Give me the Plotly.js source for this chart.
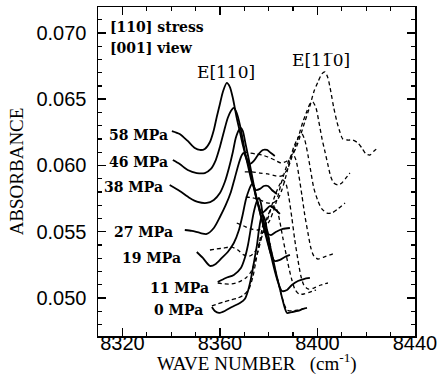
<!DOCTYPE html>
<html>
<head>
<meta charset="utf-8">
<script src="https://cdn.plot.ly/plotly-3.0.1.min.js"></script>
<style>html,body{margin:0;padding:0;background:#fff;}#chart{width:442px;height:383px;}</style>
</head>
<body>
<div id="chart"></div>
<script>
// Stress levels (labels at left of each spectrum pair)
const stressLabels = ['58 MPa', '46 MPa', '38 MPa', '27 MPa', '19 MPa', '11 MPa', '0 MPa'];

// Solid curves: E[110] polarisation
const solid58X = [8340.3,8343.5,8346.8,8349.7,8351.8,8353.8,8355.9,8357.5,8358.7,8360.0,8361.2,8362.8,8364.1,8365.3,8366.9,8368.2,8369.4,8370.6,8372.3,8373.9,8375.6,8377.6,8379.3,8380.9,8382.5];
const solid58Y = [0.06260,0.06238,0.06185,0.06132,0.06117,0.06125,0.06177,0.06268,0.06366,0.06464,0.06555,0.06623,0.06592,0.06509,0.06358,0.06253,0.06155,0.06072,0.06011,0.06034,0.06079,0.06117,0.06117,0.06094,0.06072];

const solid46X = [8340.7,8343.5,8346.8,8350.5,8353.8,8356.3,8358.3,8360.0,8361.6,8363.2,8364.5,8365.7,8366.9,8368.2,8369.4,8370.6,8371.9,8373.1,8374.7,8376.4,8378.0,8379.7,8381.3,8383.4];
const solid46Y = [0.06041,0.06011,0.05966,0.05943,0.05943,0.05974,0.06041,0.06140,0.06253,0.06358,0.06411,0.06434,0.06396,0.06306,0.06192,0.06072,0.05966,0.05875,0.05815,0.05823,0.05845,0.05845,0.05815,0.05785];

const solid38X = [8339.4,8343.5,8347.6,8350.9,8354.6,8357.5,8360.0,8362.0,8363.7,8365.3,8366.5,8367.8,8368.6,8369.4,8370.6,8371.9,8373.1,8374.3,8375.6,8377.2,8378.8,8380.5,8382.5,8384.6];
const solid38Y = [0.05853,0.05808,0.05755,0.05725,0.05717,0.05740,0.05792,0.05875,0.05981,0.06102,0.06208,0.06268,0.06283,0.06260,0.06155,0.06041,0.05928,0.05815,0.05717,0.05641,0.05664,0.05694,0.05672,0.05634];

const solid27X = [8345.6,8348.5,8351.8,8354.6,8357.5,8360.0,8362.4,8364.5,8366.1,8367.8,8369.0,8369.8,8371.0,8372.3,8373.1,8374.3,8375.6,8376.8,8378.0,8379.3,8380.9,8382.9,8385.8,8388.7];
const solid27Y = [0.05513,0.05506,0.05491,0.05483,0.05528,0.05611,0.05702,0.05800,0.05906,0.06019,0.06079,0.06094,0.06041,0.05966,0.05891,0.05800,0.05709,0.05619,0.05543,0.05491,0.05475,0.05498,0.05521,0.05528];

const solid19X = [8350.5,8353.0,8355.9,8358.3,8360.8,8363.2,8365.7,8367.8,8369.4,8370.6,8371.9,8373.1,8373.9,8374.7,8376.0,8377.2,8378.4,8379.7,8380.9,8382.5,8384.6,8386.6,8388.7];
const solid19Y = [0.05347,0.05302,0.05242,0.05257,0.05302,0.05347,0.05415,0.05513,0.05634,0.05740,0.05815,0.05860,0.05845,0.05770,0.05679,0.05589,0.05498,0.05408,0.05332,0.05279,0.05287,0.05309,0.05325];

const solid11X = [8359.1,8362.4,8365.7,8368.6,8370.2,8371.5,8372.7,8373.9,8375.2,8376.0,8376.8,8377.6,8378.8,8380.1,8381.3,8382.5,8383.8,8385.4,8387.5,8389.5,8392.0,8394.4,8396.9];
const solid11Y = [0.05121,0.05151,0.05174,0.05226,0.05302,0.05400,0.05528,0.05649,0.05732,0.05755,0.05717,0.05619,0.05498,0.05392,0.05294,0.05204,0.05121,0.05053,0.05060,0.05098,0.05128,0.05143,0.05151];

const solid0X = [8356.7,8357.9,8359.6,8362.0,8364.9,8368.2,8370.2,8371.5,8372.7,8373.9,8375.2,8376.0,8376.8,8377.6,8378.4,8379.3,8380.5,8381.7,8382.9,8384.2,8385.4,8386.6,8387.5,8389.5,8392.0,8394.0,8395.7];
const solid0Y = [0.04932,0.04902,0.04887,0.04902,0.04932,0.04962,0.04992,0.05053,0.05143,0.05264,0.05400,0.05513,0.05596,0.05626,0.05596,0.05513,0.05400,0.05302,0.05196,0.05098,0.05008,0.04925,0.04887,0.04894,0.04902,0.04917,0.04925];

// Dashed curves: E[1-10] polarisation
const dash58X = [8369.8,8372.3,8374.7,8377.2,8379.7,8382.5,8385.0,8387.5,8389.5,8391.2,8392.8,8394.8,8396.9,8398.5,8400.2,8401.8,8403.1,8404.3,8405.5,8406.7,8408.0,8409.2,8410.4,8412.5,8414.5,8416.6,8418.2,8419.9,8421.5,8423.2,8424.8];
const dash58Y = [0.06102,0.06094,0.06087,0.06079,0.06064,0.06041,0.06019,0.06034,0.06072,0.06132,0.06215,0.06328,0.06449,0.06555,0.06630,0.06691,0.06706,0.06660,0.06555,0.06434,0.06328,0.06253,0.06200,0.06192,0.06192,0.06170,0.06132,0.06087,0.06079,0.06109,0.06132];

const dash46X = [8370.2,8373.1,8376.4,8379.7,8382.9,8385.4,8387.5,8389.1,8390.7,8392.4,8394.0,8395.7,8396.9,8398.1,8399.4,8400.6,8401.8,8403.1,8404.3,8405.5,8406.7,8408.4,8410.0,8411.7,8413.3];
const dash46Y = [0.05951,0.05951,0.05943,0.05936,0.05921,0.05921,0.05966,0.06041,0.06132,0.06230,0.06328,0.06411,0.06464,0.06479,0.06434,0.06328,0.06208,0.06102,0.06004,0.05913,0.05868,0.05853,0.05868,0.05906,0.05943];

const dash38X = [8370.6,8373.5,8376.4,8379.3,8381.7,8383.8,8385.4,8387.1,8388.7,8390.3,8392.0,8393.6,8394.8,8396.1,8397.3,8398.5,8400.2,8401.8,8403.9,8405.9,8408.4,8411.3];
const dash38Y = [0.05762,0.05755,0.05740,0.05717,0.05717,0.05747,0.05815,0.05921,0.06041,0.06140,0.06208,0.06238,0.06192,0.06079,0.05951,0.05830,0.05732,0.05672,0.05641,0.05641,0.05672,0.05717];

const dash27X = [8366.9,8369.8,8372.7,8375.6,8378.0,8380.1,8382.1,8383.8,8385.4,8387.1,8388.7,8389.9,8391.2,8392.4,8393.6,8394.8,8396.1,8397.3,8398.5,8400.2,8402.6,8405.1,8407.2];
const dash27Y = [0.05566,0.05543,0.05521,0.05513,0.05528,0.05574,0.05664,0.05770,0.05883,0.05981,0.06057,0.06087,0.06041,0.05921,0.05777,0.05626,0.05491,0.05377,0.05317,0.05294,0.05309,0.05325,0.05340];

const dash19X = [8355.9,8358.7,8361.6,8364.5,8367.4,8369.8,8372.3,8374.3,8376.4,8378.4,8380.5,8382.5,8384.2,8385.8,8387.1,8388.3,8389.5,8390.7,8392.0,8393.2,8394.4,8396.1,8398.5,8401.4,8404.3];
const dash19Y = [0.05362,0.05370,0.05377,0.05385,0.05362,0.05325,0.05317,0.05347,0.05423,0.05528,0.05649,0.05770,0.05845,0.05891,0.05860,0.05755,0.05604,0.05438,0.05287,0.05166,0.05098,0.05068,0.05075,0.05098,0.05113];

const dash11X = [8359.1,8362.0,8364.9,8367.8,8370.6,8372.7,8374.3,8376.0,8377.6,8379.3,8380.9,8382.1,8383.4,8384.6,8385.8,8387.1,8388.3,8389.5,8390.7,8392.4,8394.4,8396.9,8399.4];
const dash11Y = [0.05113,0.05106,0.05106,0.05121,0.05151,0.05196,0.05272,0.05377,0.05498,0.05604,0.05672,0.05694,0.05664,0.05574,0.05453,0.05332,0.05226,0.05136,0.05068,0.05030,0.05030,0.05045,0.05060];

const dash0X = [8356.7,8359.1,8361.6,8364.5,8367.4,8369.8,8371.9,8373.5,8374.7,8376.0,8377.2,8378.0,8378.8,8380.1,8381.3,8382.5,8383.8,8385.0,8386.2,8387.5,8389.5,8392.0,8394.0,8395.7];
const dash0Y = [0.04940,0.04955,0.04970,0.04985,0.05000,0.05023,0.05068,0.05158,0.05272,0.05400,0.05513,0.05574,0.05558,0.05453,0.05332,0.05226,0.05128,0.05038,0.04962,0.04909,0.04902,0.04909,0.04917,0.04925];

// Axis ticks
const xTickVals = [8320, 8360, 8400, 8440];
const yTickVals = [0.050, 0.055, 0.060, 0.065, 0.070];

const solidSeries = [[solid58X,solid58Y],[solid46X,solid46Y],[solid38X,solid38Y],[solid27X,solid27Y],[solid19X,solid19Y],[solid11X,solid11Y],[solid0X,solid0Y]];
const dashSeries = [[dash58X,dash58Y],[dash46X,dash46Y],[dash38X,dash38Y],[dash27X,dash27Y],[dash19X,dash19Y],[dash11X,dash11Y],[dash0X,dash0Y]];

const traces = [];
dashSeries.forEach((s, i) => traces.push({
  x: s[0], y: s[1], type: 'scatter', mode: 'lines', name: stressLabels[i] + ' E[1-10]',
  line: {color: '#000', width: 1.3, dash: '4px,3px', shape: 'spline', smoothing: 0.7},
  hoverinfo: 'skip', showlegend: false
}));
solidSeries.forEach((s, i) => traces.push({
  x: s[0], y: s[1], type: 'scatter', mode: 'lines', name: stressLabels[i] + ' E[110]',
  line: {color: '#000', width: 1.8, shape: 'spline', smoothing: 0.7},
  hoverinfo: 'skip', showlegend: false
}));

const labelFont = {family: 'DejaVu Serif', size: 14, color: '#000'};
const labelPos = [[8339.4,0.06230],[8339.4,0.06026],[8337.4,0.05838],[8341.5,0.05498],[8344.8,0.05302],[8356.3,0.05075],[8353.8,0.04909]];
const annotations = stressLabels.map((t, i) => ({
  x: labelPos[i][0], y: labelPos[i][1], xref: 'x', yref: 'y', text: '<b>' + t + '</b>',
  showarrow: false, xanchor: 'right', yanchor: 'middle', font: labelFont
}));
annotations.push({x: 8314.0, y: 0.07045, xref: 'x', yref: 'y', text: '<b>[110] stress</b>', showarrow: false, xanchor: 'left', yanchor: 'middle', font: labelFont});
annotations.push({x: 8314.0, y: 0.06885, xref: 'x', yref: 'y', text: '<b>[001] view</b>', showarrow: false, xanchor: 'left', yanchor: 'middle', font: labelFont});
annotations.push({x: 8362.3, y: 0.06706, xref: 'x', yref: 'y', text: 'E[110]', showarrow: false, xanchor: 'center', yanchor: 'middle', font: {family: 'DejaVu Serif', size: 17, color: '#000'}});
annotations.push({x: 8401.4, y: 0.06796, xref: 'x', yref: 'y', text: 'E[11\u03050]', showarrow: false, xanchor: 'center', yanchor: 'middle', font: {family: 'DejaVu Serif', size: 17, color: '#000'}});
// x-axis title drawn as an annotation below the tick labels
annotations.push({x: 0.5, y: 0, xref: 'paper', yref: 'paper', yshift: -26, text: 'WAVE NUMBER&nbsp;&nbsp;&nbsp;(cm<sup>-1</sup>)', showarrow: false, xanchor: 'center', yanchor: 'middle', font: {family: 'Liberation Serif', size: 19, color: '#000'}});

const layout = {
  width: 442, height: 383,
  margin: {l: 98, r: 27, t: 7, b: 47},
  paper_bgcolor: '#fff', plot_bgcolor: '#fff',
  showlegend: false,
  xaxis: {
    range: [8310, 8440], tickvals: xTickVals, ticktext: xTickVals.map(String),
    ticks: 'inside', ticklen: 8, tickwidth: 1.5, tickcolor: '#000',
    minor: {dtick: 10, tick0: 8310, ticks: 'inside', ticklen: 4, tickwidth: 1.2, tickcolor: '#000'},
    showline: true, linecolor: '#000', linewidth: 1.5, mirror: 'ticks',
    showgrid: false, zeroline: false,
    tickfont: {family: 'Liberation Sans', size: 20, color: '#000'},
    ticklabelstandoff: -12,
    automargin: false
  },
  yaxis: {
    range: [0.04713, 0.07196], tickvals: yTickVals, ticktext: yTickVals.map(v => v.toFixed(3)),
    ticks: 'inside', ticklen: 8, tickwidth: 1.5, tickcolor: '#000',
    minor: {dtick: 0.001, tick0: 0.050, ticks: 'inside', ticklen: 4, tickwidth: 1.2, tickcolor: '#000'},
    showline: true, linecolor: '#000', linewidth: 1.5, mirror: 'ticks',
    showgrid: false, zeroline: false,
    tickfont: {family: 'Liberation Sans', size: 20, color: '#000'},
    ticklabelstandoff: 6,
    title: {text: 'ABSORBANCE', font: {family: 'Liberation Serif', size: 19, color: '#000'}, standoff: 8},
    automargin: false
  },
  annotations: annotations
};

Plotly.newPlot('chart', traces, layout, {staticPlot: true, displayModeBar: false});
</script>
</body>
</html>
